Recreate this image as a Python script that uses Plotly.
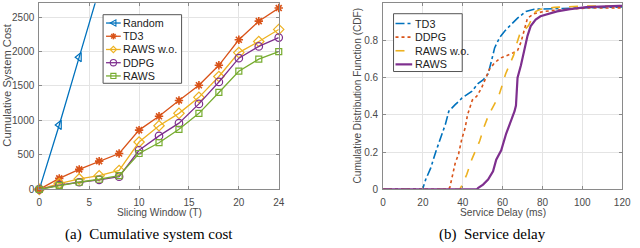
import plotly.graph_objects as go

W, H = 640, 248

# ---------------- data: (a) cumulative system cost ----------------
slot = [0, 2, 4, 6, 8, 10, 12, 14, 16, 18, 20, 22, 24]
random_slot = [0, 2, 4, 6]
random_cost = [0, 935, 1918, 2900]
td3_cost = [0, 160, 290, 410, 520, 860, 1060, 1290, 1510, 1800, 2170, 2440, 2630]
raws_wo_cost = [0, 85, 152, 199, 275, 687, 923, 1103, 1335, 1638, 1984, 2145, 2320]
ddpg_cost = [0, 62, 104, 137, 185, 568, 776, 961, 1240, 1558, 1903, 2074, 2202]
raws_cost = [0, 57, 104, 147, 199, 521, 677, 871, 1103, 1406, 1714, 1889, 1998]

# ---------------- data: (b) service delay CDF ----------------
td3_delay = [0, 19.8, 21.4, 23.9, 26.4, 28.8, 31.3, 33, 34.6, 36.2, 38.7, 39.5, 44.5, 47.8,
             50.2, 52.7, 54.4, 56, 58.5, 61, 64.3, 67.5, 71.7, 75.8, 90, 120]
td3_cdf = [0, 0, 0.053, 0.114, 0.2, 0.27, 0.35, 0.42, 0.44, 0.455, 0.48, 0.49, 0.526, 0.57,
           0.588, 0.62, 0.69, 0.76, 0.816, 0.85, 0.886, 0.92, 0.956, 0.968, 0.972, 0.98]
ddpg_delay = [0, 32.5, 33.5, 34.6, 36.2, 37.9, 39.5, 41.2, 42.4, 44.8, 47, 49.4, 51.4, 53.4,
              56, 58.8, 64.3, 67.5, 69.2, 70.8, 72.5, 75.8, 80.7, 89, 102, 120]
ddpg_cdf = [0, 0, 0.01, 0.07, 0.14, 0.19, 0.27, 0.33, 0.40, 0.48, 0.5, 0.544, 0.6, 0.645,
            0.68, 0.705, 0.728, 0.746, 0.79, 0.85, 0.92, 0.944, 0.956, 0.965, 0.974, 0.975]
raws_wo_delay = [0, 38.5, 40, 42, 44.5, 46.5, 48.5, 50.5, 53, 56, 58, 59.8, 61.5, 63.5,
                 65.5, 67, 68.5, 70, 71.5, 73, 74.5, 76.5, 79, 86, 102, 120]
raws_wo_cdf = [0, 0, 0.03, 0.08, 0.16, 0.21, 0.26, 0.33, 0.4, 0.46, 0.5, 0.56, 0.62, 0.67,
               0.72, 0.78, 0.83, 0.855, 0.862, 0.88, 0.915, 0.955, 0.968, 0.978, 0.985, 0.985]
raws_delay = [0, 47, 47.8, 50.2, 52.7, 55.2, 56.8, 59.3, 61.8, 64.3, 66, 66.7, 67.5, 69.2,
              70.8, 72.5, 74.1, 76.6, 79, 82.4, 87.3, 93.9, 102, 118.6, 120]
raws_cdf = [0, 0, 0.009, 0.026, 0.053, 0.097, 0.16, 0.21, 0.3, 0.37, 0.42, 0.45, 0.6, 0.667,
            0.746, 0.825, 0.877, 0.912, 0.93, 0.939, 0.956, 0.968, 0.979, 0.986, 0.986]

cost_ticks = [0, 500, 1000, 1500, 2000, 2500]
slot_ticks = [0, 5, 10, 15, 20, 24]
delay_ticks = [0, 20, 40, 60, 80, 100, 120]
cdf_ticks = [0, 0.2, 0.4, 0.6, 0.8, 1]

BLUE, ORANGE, YELLOW, PURPLE, GREEN = "#0072BD", "#D95319", "#EDB120", "#7E2F8E", "#77AC30"
FONT = "Liberation Sans, Arial, sans-serif"
TXT = "#4a4a4a"
GRID = "#e4e4e4"
AXL = "#8a8a8a"

fig = go.Figure()

def mk(sym, size, color, lw=1.2):
    return dict(symbol=sym, size=size, color=color, line=dict(color=color, width=lw))

fig.add_trace(go.Scatter(x=random_slot, y=random_cost, mode="lines+markers",
                         line=dict(color=BLUE, width=1.3), marker=mk("triangle-left-open", 8, BLUE),
                         cliponaxis=True, xaxis="x", yaxis="y", showlegend=False))
fig.add_trace(go.Scatter(x=slot, y=td3_cost, mode="lines+markers",
                         line=dict(color=ORANGE, width=1.3), marker=mk("asterisk-open", 7, ORANGE, 1.6),
                         cliponaxis=False, xaxis="x", yaxis="y", showlegend=False))
fig.add_trace(go.Scatter(x=slot, y=raws_wo_cost, mode="lines+markers",
                         line=dict(color=YELLOW, width=1.3), marker=mk("diamond-open", 8, YELLOW),
                         cliponaxis=False, xaxis="x", yaxis="y", showlegend=False))
fig.add_trace(go.Scatter(x=slot, y=ddpg_cost, mode="lines+markers",
                         line=dict(color=PURPLE, width=1.3), marker=mk("circle-open", 7.5, PURPLE),
                         cliponaxis=False, xaxis="x", yaxis="y", showlegend=False))
fig.add_trace(go.Scatter(x=slot, y=raws_cost, mode="lines+markers",
                         line=dict(color=GREEN, width=1.3), marker=mk("square-open", 6, GREEN),
                         cliponaxis=False, xaxis="x", yaxis="y", showlegend=False))

fig.add_trace(go.Scatter(x=td3_delay, y=td3_cdf, mode="lines", line=dict(color=BLUE, width=1.6, dash="dashdot"),
                         xaxis="x2", yaxis="y2", showlegend=False))
fig.add_trace(go.Scatter(x=ddpg_delay, y=ddpg_cdf, mode="lines", line=dict(color=ORANGE, width=1.6, dash="dot"),
                         xaxis="x2", yaxis="y2", showlegend=False))
fig.add_trace(go.Scatter(x=raws_wo_delay, y=raws_wo_cdf, mode="lines", line=dict(color=YELLOW, width=1.6, dash="dash"),
                         xaxis="x2", yaxis="y2", showlegend=False))
fig.add_trace(go.Scatter(x=raws_delay, y=raws_cdf, mode="lines", line=dict(color=PURPLE, width=2.2),
                         xaxis="x2", yaxis="y2", showlegend=False))

def X(px):
    return px / W

def Y(py):
    return 1 - py / H

ax_common = dict(showgrid=True, gridcolor=GRID, gridwidth=1, showline=True, linecolor=AXL, linewidth=1,
                 mirror="ticks", ticks="inside", ticklen=3, tickcolor=AXL, zeroline=False,
                 tickfont=dict(family=FONT, size=10, color=TXT))

fig.update_layout(
    width=W, height=H, margin=dict(l=0, r=0, t=0, b=0),
    paper_bgcolor="white", plot_bgcolor="white", showlegend=False,
    xaxis=dict(domain=[X(37), X(281)], range=[0, 24], tickvals=slot_ticks, anchor="y",
               ticklabelstandoff=4, **ax_common),
    yaxis=dict(domain=[Y(193.3), Y(3.3)], range=[0, 2700], tickvals=cost_ticks, anchor="x",
               ticklabelstandoff=2, **ax_common),
    xaxis2=dict(domain=[X(387.3), X(631)], range=[0, 120], tickvals=delay_ticks, anchor="y2",
                ticklabelstandoff=4, **ax_common),
    yaxis2=dict(domain=[Y(193.3), Y(3.3)], range=[0, 1], tickvals=cdf_ticks, anchor="x2",
                ticklabelstandoff=2, **ax_common),
)

ann = []
shapes = []

def text(px, py, s, size, color=TXT, family=FONT, angle=0, xanchor="center"):
    ann.append(dict(x=X(px), y=Y(py), xref="paper", yref="paper", text=s, showarrow=False,
                    font=dict(family=family, size=size, color=color), textangle=angle,
                    xanchor=xanchor, yanchor="middle"))

# axis titles and captions
text(159, 217, "Slicing Window (T)", 10.2)
text(510, 217, "Service Delay (ms)", 10.2)
text(4.5, 87, "Cumulative System Cost", 11.2, angle=-90)
text(361.7, 97.5, "Cumulative Distribution Function (CDF)", 10.1, angle=-90)
text(149, 239, "(a)\u00a0 Cumulative system cost", 15, color="black", family="Liberation Serif, Times New Roman, serif")
text(499, 239, "(b)\u00a0 Service delay", 15, color="black", family="Liberation Serif, Times New Roman, serif")

# ---------------- legends ----------------
def marker_shapes(kind, cx, cy, color):
    r = 3.2
    line = dict(color=color, width=1.1)
    if kind == "tri":
        path = f"M{X(cx-r)},{Y(cy)} L{X(cx+r*0.8)},{Y(cy-r)} L{X(cx+r*0.8)},{Y(cy+r)} Z"
        shapes.append(dict(type="path", path=path, xref="paper", yref="paper", line=line))
    elif kind == "ast":
        for dx, dy in [(r, 0), (0, r), (r*0.7, r*0.7), (r*0.7, -r*0.7)]:
            shapes.append(dict(type="line", x0=X(cx-dx), y0=Y(cy-dy), x1=X(cx+dx), y1=Y(cy+dy),
                               xref="paper", yref="paper", line=dict(color=color, width=1.5)))
    elif kind == "dia":
        path = f"M{X(cx-r)},{Y(cy)} L{X(cx)},{Y(cy-r)} L{X(cx+r)},{Y(cy)} L{X(cx)},{Y(cy+r)} Z"
        shapes.append(dict(type="path", path=path, xref="paper", yref="paper", line=line))
    elif kind == "cir":
        shapes.append(dict(type="circle", x0=X(cx-r), y0=Y(cy-r), x1=X(cx+r), y1=Y(cy+r),
                           xref="paper", yref="paper", line=line))
    elif kind == "sq":
        q = 2.6
        shapes.append(dict(type="rect", x0=X(cx-q), y0=Y(cy-q), x1=X(cx+q), y1=Y(cy+q),
                           xref="paper", yref="paper", line=line))

def legend(box, first_y, step, x_line0, x_line1, x_text, entries):
    x0, y0, x1, y1 = box
    shapes.append(dict(type="rect", x0=X(x0), y0=Y(y0), x1=X(x1), y1=Y(y1), xref="paper", yref="paper",
                       line=dict(color="#555555", width=1), fillcolor="white", layer="above"))
    for i, (name, color, dash, width, mkind) in enumerate(entries):
        cy = first_y + i * step
        shapes.append(dict(type="line", x0=X(x_line0), y0=Y(cy), x1=X(x_line1), y1=Y(cy),
                           xref="paper", yref="paper", line=dict(color=color, width=width, dash=dash)))
        if mkind:
            marker_shapes(mkind, (x_line0 + x_line1) / 2, cy, color)
        text(x_text, cy, name, 10.8, color="#222222", xanchor="left")

legend((102, 15, 182, 85), 23.5, 13.5, 105, 120, 120.5,
       [("Random", BLUE, "solid", 1.3, "tri"),
        ("TD3", ORANGE, "solid", 1.3, "ast"),
        ("RAWS w.o.", YELLOW, "solid", 1.3, "dia"),
        ("DDPG", PURPLE, "solid", 1.3, "cir"),
        ("RAWS", GREEN, "solid", 1.3, "sq")])

legend((398, 14, 468, 73), 24, 13.9, 400, 417, 417.5,
       [("TD3", BLUE, "dashdot", 1.6, None),
        ("DDPG", ORANGE, "dot", 1.6, None),
        ("RAWS w.o.", YELLOW, "dash", 1.6, None),
        ("RAWS", PURPLE, "solid", 2.2, None)])

fig.update_layout(annotations=ann, shapes=shapes)
fig.write_html("out.html", config={"displayModeBar": False},
               post_script="document.body.style.margin='0';document.body.style.overflow='hidden';")
